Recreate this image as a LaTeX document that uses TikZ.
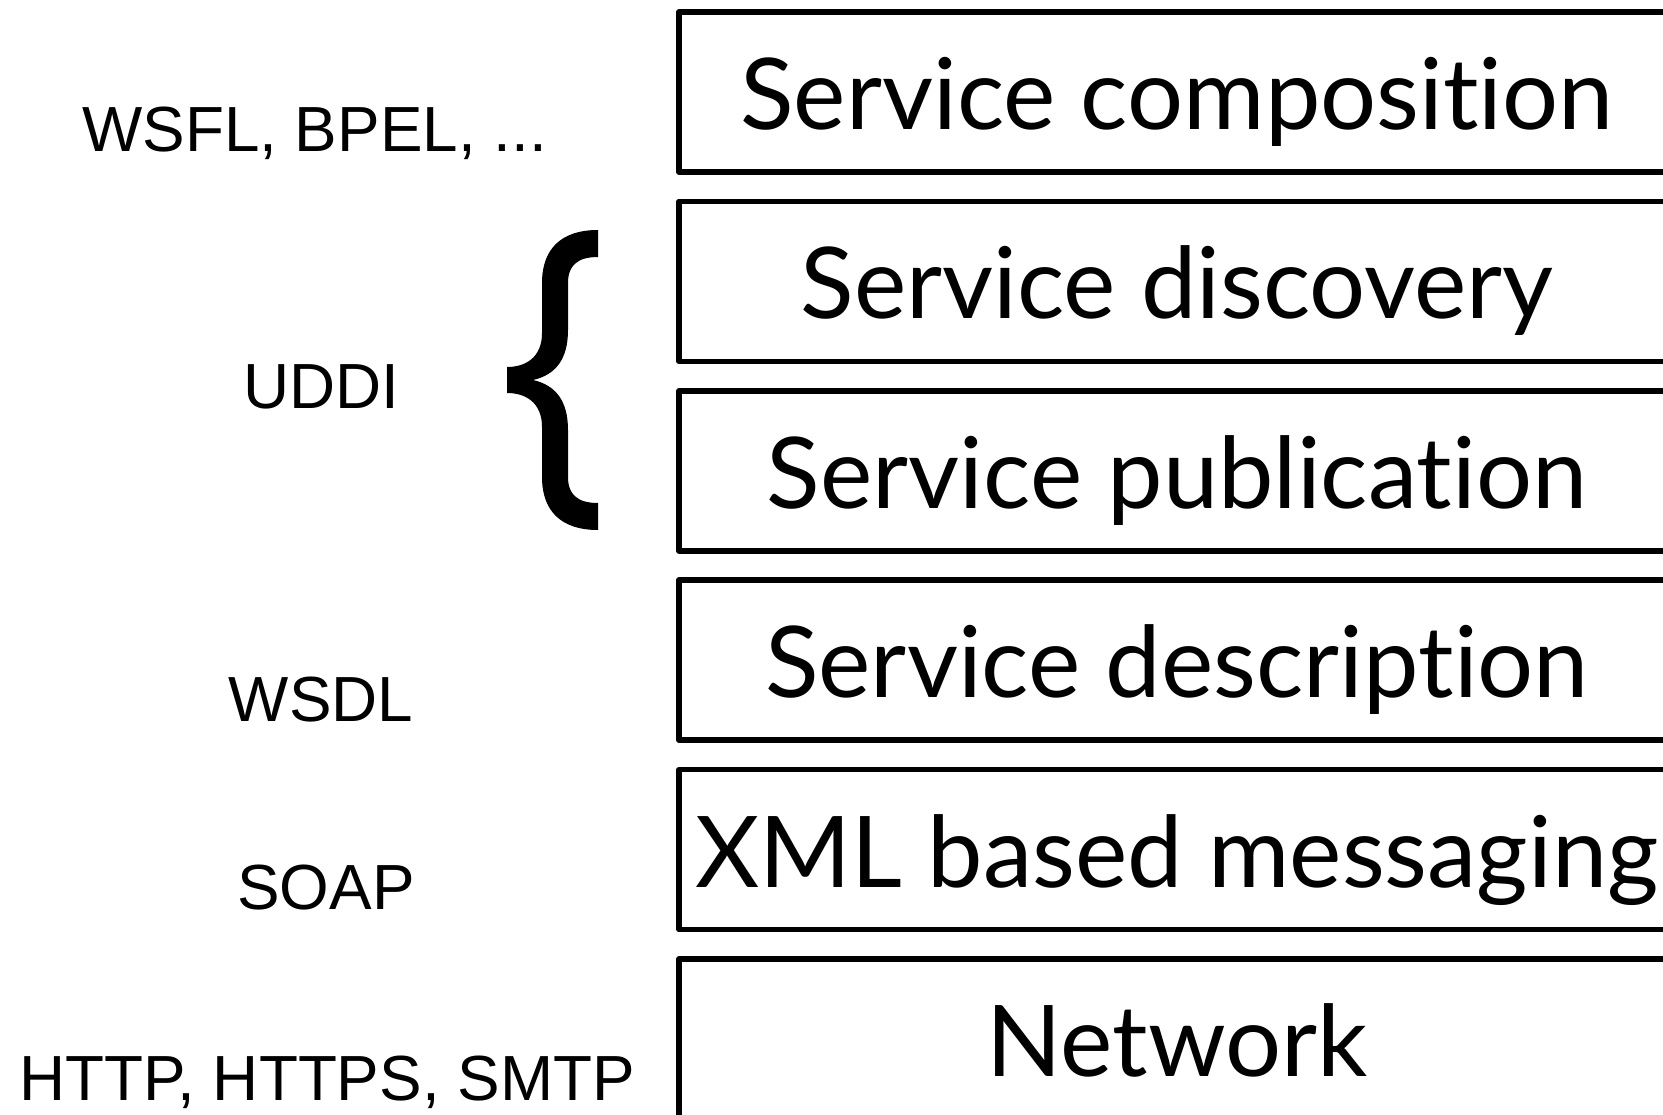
\documentclass[tikz,border=0pt]{standalone}
\usepackage{fontspec}
\setmainfont{Lato}[RawFeature={-liga}]
\newfontfamily\arialf{Liberation Sans}
\begin{document}
\begin{tikzpicture}[x=1pt,y=-1pt,
  layerbox/.style={draw, line width=5.5pt, line join=round, rectangle, minimum width=996pt, minimum height=160pt, inner sep=0pt},
  laytext/.style={anchor=base, font=\fontsize{99}{108}\selectfont, inner sep=0pt},
  proto/.style={anchor=base, font=\arialf\fontsize{63.8}{70}\selectfont, inner sep=0pt}]
\useasboundingbox (0,0) rectangle (1663,1115);
\clip (0,0) rectangle (1663,1115);
% layer boxes
\node[layerbox] (b1) at (1177,92) {};
\node[layerbox] (b2) at (1177,281.4) {};
\node[layerbox] (b3) at (1177,470.8) {};
\node[layerbox] (b4) at (1177,660.2) {};
\node[layerbox] (b5) at (1177,849.6) {};
\node[layerbox] (b6) at (1177,1039) {};
% layer texts
\node[laytext] (t1) at (1177,129.5) {Service composition};
\node[laytext] (t2) at (1177,318.9) {Service discovery};
\node[laytext] (t3) at (1177,508.3) {Service publication};
\node[laytext] (t4) at (1177,697.7) {Service description};
\node[laytext] (t5) at (1177,887.1) {XML based messaging};
\node[laytext] (t6) at (1177,1076.5) {Network};
% protocols
\node[proto] (p1) at (314.5,152) {WSFL, BPEL, ...};
\node[proto] (p2) at (321,408) {UDDI};
\node[proto] (p3) at (321,721) {WSDL};
\node[proto] (p4) at (326,909) {SOAP};
\node[proto] (p5) at (327,1100) {HTTP, HTTPS, SMTP};
% brace
\fill (598,230) .. controls (560,230) and (542,250) .. (542,283)
  -- (542,333) .. controls (542,358) and (525,367) .. (507,367)
  -- (507,393) .. controls (525,393) and (542,402) .. (542,427)
  -- (542,477) .. controls (542,510) and (560,530) .. (598,530)
  -- (598,503) .. controls (578,503) and (568,495) .. (568,477)
  -- (568,430) .. controls (568,400) and (555,385) .. (533,380)
  .. controls (555,375) and (568,360) .. (568,330)
  -- (568,283) .. controls (568,265) and (578,257) .. (598,257) -- cycle;
\end{tikzpicture}
\end{document}
